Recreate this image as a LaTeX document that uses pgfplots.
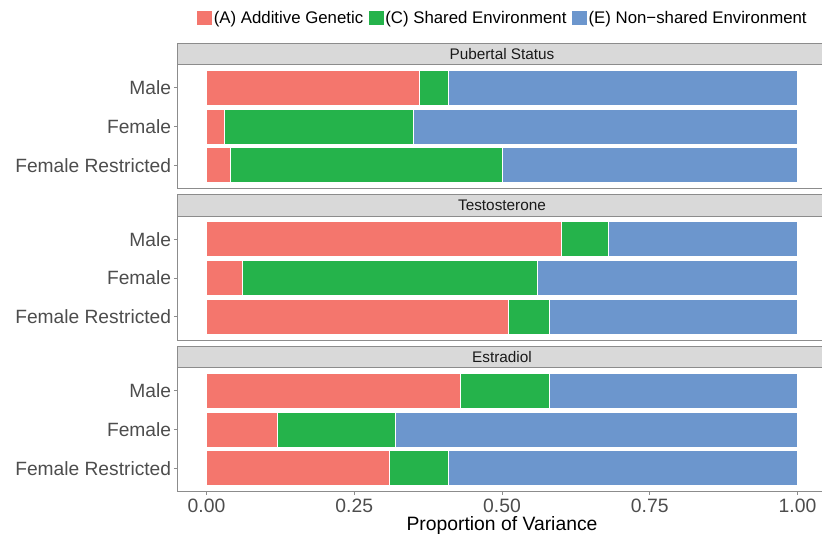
\documentclass[border=0pt]{standalone}
\usepackage{fontspec}
\setmainfont{Liberation Sans}
\usepackage{pgfplots}
\pgfplotsset{compat=1.18}
\definecolor{cA}{HTML}{F4766D}
\definecolor{cC}{HTML}{25B34B}
\definecolor{cE}{HTML}{6C96CD}
\definecolor{stripfill}{HTML}{D9D9D9}
\definecolor{frame}{HTML}{8C8C8C}
\definecolor{ticktext}{HTML}{4D4D4D}
\definecolor{striptextcol}{HTML}{1A1A1A}
\tikzset{strip/.style={fill=stripfill, draw=frame, line width=0.6pt,
  minimum width=487.5pt, minimum height=16.125pt, inner sep=0pt, outer sep=0pt,
  anchor=south west, font=\fontsize{11.5}{13}\selectfont, text=striptextcol}}
\pgfplotsset{
  panel/.style={
    xbar stacked, scale only axis, width=487.5pt, height=93pt,
    xmin=-0.05, xmax=1.05, ymin=0.4, ymax=3.6,
    ytick={1,2,3}, yticklabels={Female Restricted,Female,Male},
    bar width=0.9, clip=false,
    axis line style={frame, line width=0.6pt},
    tick style={frame, line width=0.6pt},
    tick align=outside, major tick length=2.4pt,
    ytick pos=left, xtick pos=bottom,
    yticklabel style={font=\fontsize{14.4}{16}\selectfont, text=ticktext, xshift=1.5pt},
    every axis plot/.append style={draw=white, line width=0.6pt},
  },
}
\begin{document}
\begin{tikzpicture}
\useasboundingbox (0,0) rectangle (616.5pt,402pt);
\clip (0,0) rectangle (616.5pt,402pt);
% Panel 1: Pubertal Status
\begin{axis}[panel, at={(132.75pt,353.625pt)}, anchor=north west, xtick=\empty,
  legend style={at={(0.0308,1.375)}, anchor=west, draw=none, fill=none,
    inner xsep=0pt, inner ysep=0pt, legend columns=3,
    font=\fontsize{12.6}{14}\selectfont, nodes={inner xsep=1.2pt},
    /tikz/every even column/.append style={column sep=3pt}},
  legend cell align=left,
  legend image code/.code={\fill[#1,draw=none] (0pt,-5.6pt) rectangle (11.2pt,5.6pt);}]
\addplot[fill=cA] coordinates {(0.36,3) (0.03,2) (0.04,1)};
\addplot[fill=cC] coordinates {(0.05,3) (0.32,2) (0.46,1)};
\addplot[fill=cE] coordinates {(0.59,3) (0.65,2) (0.50,1)};
\legend{(A) Additive Genetic,(C) Shared Environment,(E) Non−shared Environment}
\node[strip] at (rel axis cs:0,1) {Pubertal Status};
\end{axis}
% Panel 2: Testosterone
\begin{axis}[panel, at={(132.75pt,240pt)}, anchor=north west, xtick=\empty]
\addplot[fill=cA] coordinates {(0.60,3) (0.06,2) (0.51,1)};
\addplot[fill=cC] coordinates {(0.08,3) (0.50,2) (0.07,1)};
\addplot[fill=cE] coordinates {(0.32,3) (0.44,2) (0.42,1)};
\node[strip] at (rel axis cs:0,1) {Testosterone};
\end{axis}
% Panel 3: Estradiol
\begin{axis}[panel, at={(132.75pt,126.375pt)}, anchor=north west,
  xtick={0,0.25,0.5,0.75,1},
  xticklabel style={font=\fontsize{14.5}{16}\selectfont, text=ticktext,
    /pgf/number format/.cd, fixed, fixed zerofill, precision=2, assume math mode=true},
  xlabel={Proportion of Variance},
  xlabel style={font=\fontsize{14.5}{16}\selectfont, text=black, yshift=4.5pt}]
\addplot[fill=cA] coordinates {(0.43,3) (0.12,2) (0.31,1)};
\addplot[fill=cC] coordinates {(0.15,3) (0.20,2) (0.10,1)};
\addplot[fill=cE] coordinates {(0.42,3) (0.68,2) (0.59,1)};
\node[strip] at (rel axis cs:0,1) {Estradiol};
\end{axis}
\end{tikzpicture}
\end{document}
